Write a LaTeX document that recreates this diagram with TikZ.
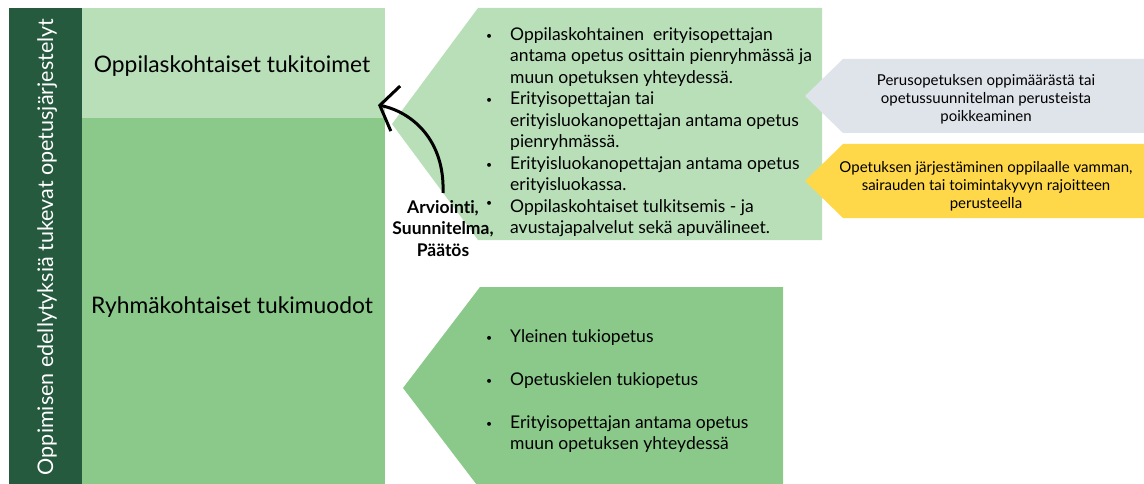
\documentclass[tikz,border=0pt]{standalone}
\usepackage{fontspec}
\setmainfont{Lato}[Ligatures=NoCommon]
\usetikzlibrary{arrows.meta, positioning}

\definecolor{stripgreen}{HTML}{255A3F}
\definecolor{lightgreen}{HTML}{B8DFB8}
\definecolor{midgreen}{HTML}{8AC98A}
\definecolor{notegray}{HTML}{DFE3EA}
\definecolor{noteyellow}{HTML}{FFD84A}

\tikzset{
  titletext/.style={font=\fontsize{22.8}{27}\selectfont, anchor=base, inner sep=0pt},
  listtext/.style={font=\fontsize{17.5}{21.5}\selectfont, anchor=north west, inner sep=0pt},
  notetext/.style={font=\fontsize{15}{18}\selectfont, anchor=north, inner sep=0pt},
}

\newcommand{\bl}{\hspace{-1pt}\raisebox{1pt}{\scalebox{0.6}{\textbullet}}}

\begin{document}
\begin{tikzpicture}[x=1pt, y=-1pt]
\useasboundingbox (0,0) rectangle (1144,484);

\fill[stripgreen] (9,8) rectangle (82,484);
\fill[lightgreen] (82,8) rectangle (385,118);
\fill[midgreen] (82,118) rectangle (385,484);

\fill[lightgreen] (392,124) -- (478,8) -- (822,8) -- (822,240) -- (478,240) -- cycle;
\fill[midgreen] (403,388) -- (480,287) -- (783,287) -- (783,489) -- (480,489) -- cycle;
\fill[notegray] (805,96) -- (843,59) -- (1144,59) -- (1144,133) -- (843,133) -- cycle;
\fill[noteyellow] (805,181) -- (843,144) -- (1144,144) -- (1144,218) -- (843,218) -- cycle;

\node[font=\fontsize{21.5}{26}\selectfont, text=white, rotate=90, anchor=base, inner sep=0pt] (frame) at (53,247) {Oppimisen edellytyksiä tukevat opetusjärjestelyt};

\node[titletext] (indiv) at (232,73) {Oppilaskohtaiset tukitoimet};
\node[titletext] (group) at (232,313) {Ryhmäkohtaiset tukimuodot};

\node[listtext] (indivlist) at (487,25) {\begin{tabular}{@{}p{23pt}@{}l@{}}
\bl & Oppilaskohtainen\ \ erityisopettajan\\
 & antama opetus osittain pienryhmässä ja\\
 & muun opetuksen yhteydessä.\\
\bl & Erityisopettajan tai\\
 & erityisluokanopettajan antama opetus\\
 & pienryhmässä.\\
\bl & Erityisluokanopettajan antama opetus\\
 & erityisluokassa.\\
\raisebox{5pt}{\bl} & Oppilaskohtaiset tulkitsemis - ja\\
 & avustajapalvelut sekä apuvälineet.
\end{tabular}};

\node[listtext] (grouplist) at (487,327) {\begin{tabular}{@{}p{23pt}@{}l@{}}
\bl & Yleinen tukiopetus\\
 & \\
\bl & Opetuskielen tukiopetus\\
 & \\
\bl & Erityisopettajan antama opetus\\
 & muun opetuksen yhteydessä
\end{tabular}};

\node[notetext] (deviation) at (986,72.4) {\begin{tabular}{@{}c@{}}
Perusopetuksen oppimäärästä tai\\
opetussuunnitelman perusteista\\
poikkeaminen
\end{tabular}};

\node[notetext] (disability) at (986,159.4) {\begin{tabular}{@{}c@{}}
Opetuksen järjestäminen oppilaalle vamman,\\
sairauden tai toimintakyvyn rajoitteen\\
perusteella
\end{tabular}};

\node[font=\bfseries\fontsize{17.5}{21.5}\selectfont, anchor=north, inner sep=0pt] (decision) at (443,198) {\begin{tabular}{@{}c@{}}
Arviointi,\\
Suunnitelma,\\
Päätös
\end{tabular}};

\coordinate (arrowend) at (378,105);
\draw[line width=3pt, -{Straight Barb[length=16pt, width=46pt]}] ([yshift=5pt]decision.north) .. controls (445,140) and (412,112) .. (arrowend);

\end{tikzpicture}
\end{document}
